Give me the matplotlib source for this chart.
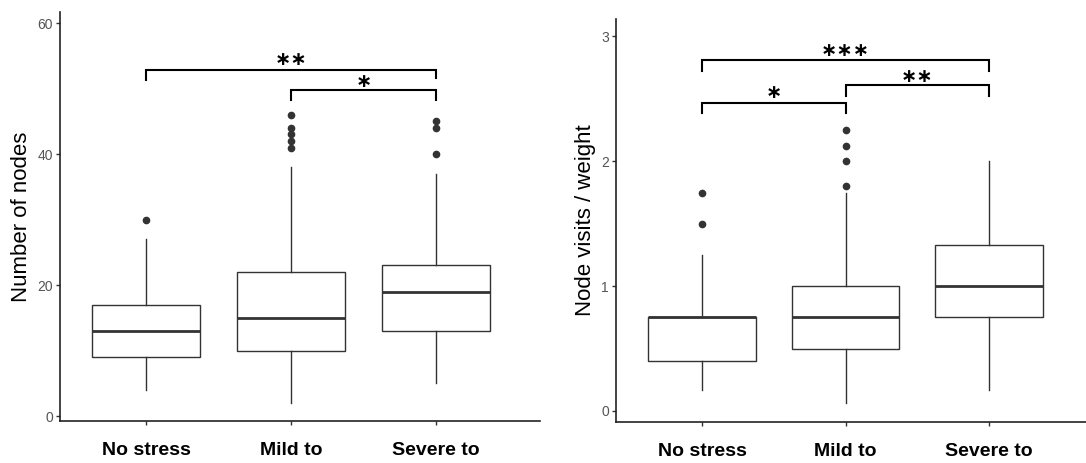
import matplotlib
matplotlib.use("Agg")
import matplotlib.pyplot as plt

plt.rcParams['font.family'] = ['Liberation Sans', 'DejaVu Sans']

categories = ["No stress", "Mild to", "Severe to"]

# Left panel: Number of nodes
nodes_whislo = [4, 2, 5]
nodes_q1 = [9, 10, 13]
nodes_med = [13, 15, 19]
nodes_q3 = [17, 22, 23]
nodes_whishi = [27, 38, 37]
nodes_fliers = [[30], [41, 42, 43, 44, 46], [40, 44, 45]]
nodes_yticks = [0, 20, 40, 60]

# Right panel: Node visits / weight
visits_whislo = [0.17, 0.06, 0.17]
visits_q1 = [0.40, 0.50, 0.75]
visits_med = [0.75, 0.75, 1.00]
visits_q3 = [0.75, 1.00, 1.33]
visits_whishi = [1.25, 1.75, 2.00]
visits_fliers = [[1.5, 1.75], [1.8, 2.0, 2.125, 2.25], []]
visits_yticks = [0, 1, 2, 3]

# Significance brackets: (group a, group b, bar height, tick drop a, tick drop b, label, label y)
nodes_sig = [(1, 3, 52.8, 1.5, 1.2, "∗∗", 54.4), (2, 3, 49.8, 1.5, 1.5, "∗", 51.1)]
visits_sig = [(1, 3, 2.81, 0.085, 0.085, "∗∗∗", 2.89), (2, 3, 2.61, 0.09, 0.09, "∗∗", 2.68),
              (1, 2, 2.47, 0.08, 0.08, "∗", 2.55)]

W, H = 1086, 463
fig = plt.figure(figsize=(W / 100, H / 100), dpi=100)

def make_ax(px_left, px_right, px_top, px_bottom):
    return fig.add_axes([px_left / W, 1 - px_bottom / H, (px_right - px_left) / W, (px_bottom - px_top) / H])

ax1 = make_ax(60, 540, 12, 421)
ax2 = make_ax(616, 1086, 19, 421.7)

def draw(ax, whislo, q1, med, q3, whishi, fliers, yticks, ylim, xlim, ylabel, sigs):
    stats = []
    for i in range(len(categories)):
        stats.append(dict(whislo=whislo[i], q1=q1[i], med=med[i], q3=q3[i], whishi=whishi[i],
                          fliers=fliers[i], label=categories[i]))
    ax.bxp(stats, positions=[1, 2, 3], widths=0.75, patch_artist=True, showcaps=False,
           boxprops=dict(facecolor='white', edgecolor='#333333', linewidth=1.0),
           medianprops=dict(color='#333333', linewidth=2.0),
           whiskerprops=dict(color='#333333', linewidth=1.0),
           flierprops=dict(marker='o', markerfacecolor='#333333', markeredgecolor='#333333',
                           markersize=4.5, linestyle='none'))
    ax.set_xlim(*xlim)
    ax.set_ylim(*ylim)
    ax.set_yticks(yticks)
    ax.set_yticklabels([str(t) for t in yticks], color='#555555', fontsize=10)
    ax.set_xticks([1, 2, 3])
    ax.set_xticklabels(categories, fontsize=14, fontweight='bold', color='black')
    ax.tick_params(axis='both', color='#333333', length=3, width=1)
    ax.tick_params(axis='x', pad=12)
    ax.tick_params(axis='y', pad=2)
    for s in ['top', 'right']:
        ax.spines[s].set_visible(False)
    for s in ['left', 'bottom']:
        ax.spines[s].set_color('#222222')
        ax.spines[s].set_linewidth(1.2)
    ax.set_ylabel(ylabel, fontsize=16, labelpad=4)
    for a, b, y, da, db, lab, ly in sigs:
        ax.plot([a, a, b, b], [y - da, y, y, y - db], color='black', linewidth=1.5,
                solid_joinstyle='miter')
        ax.text((a + b) / 2, ly, lab, ha='center', va='center', fontsize=14, color='black',
                fontweight='bold', family='DejaVu Sans')

draw(ax1, nodes_whislo, nodes_q1, nodes_med, nodes_q3, nodes_whishi, nodes_fliers, nodes_yticks,
     (-0.76, 61.7), (0.407, 3.717), "Number of nodes", nodes_sig)
draw(ax2, visits_whislo, visits_q1, visits_med, visits_q3, visits_whishi, visits_fliers, visits_yticks,
     (-0.086, 3.14), (0.40, 3.676), "Node visits / weight", visits_sig)

fig.savefig("out.png", dpi=100, facecolor='white')
